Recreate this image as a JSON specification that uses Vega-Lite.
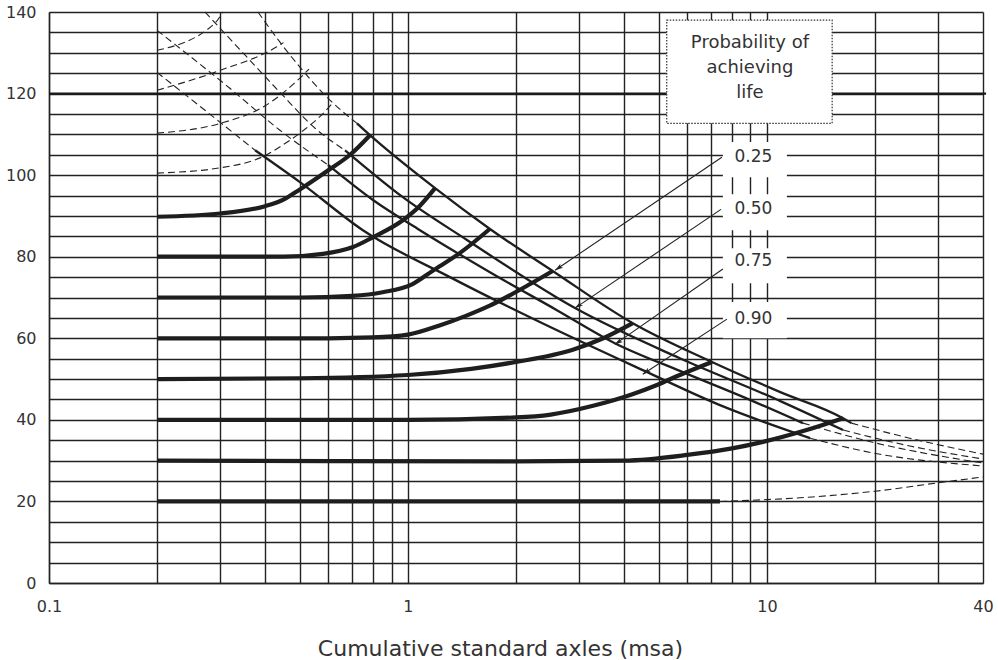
{
  "$schema": "https://vega.github.io/schema/vega-lite/v6.json",
  "width": 934,
  "height": 571,
  "autosize": {"type": "none"},
  "padding": {"left": 49, "top": 12, "right": 15, "bottom": 77},
  "background": "white",
  "config": {"font": "DejaVu Sans", "view": {"stroke": null}},
  "datasets": {
    "thick": [
      {"s": "90", "x": 0.2, "y": 89.8}, {"s": "90", "x": 0.3, "y": 90.6}, {"s": "90", "x": 0.4, "y": 92.4}, {"s": "90", "x": 0.45, "y": 94}, {"s": "90", "x": 0.5, "y": 96.5}, {"s": "90", "x": 0.6, "y": 101.2}, {"s": "90", "x": 0.69, "y": 105}, {"s": "90", "x": 0.784, "y": 109.8},
      {"s": "80", "x": 0.2, "y": 80}, {"s": "80", "x": 0.45, "y": 80}, {"s": "80", "x": 0.58, "y": 80.7}, {"s": "80", "x": 0.7, "y": 82.3}, {"s": "80", "x": 0.8, "y": 84.8}, {"s": "80", "x": 0.97, "y": 89}, {"s": "80", "x": 1.08, "y": 92.5}, {"s": "80", "x": 1.19, "y": 96.8},
      {"s": "70", "x": 0.2, "y": 70}, {"s": "70", "x": 0.5, "y": 70}, {"s": "70", "x": 0.7, "y": 70.4}, {"s": "70", "x": 0.85, "y": 71.3}, {"s": "70", "x": 1.03, "y": 73.3}, {"s": "70", "x": 1.17, "y": 76.5}, {"s": "70", "x": 1.4, "y": 81}, {"s": "70", "x": 1.69, "y": 86.8},
      {"s": "60", "x": 0.2, "y": 60}, {"s": "60", "x": 0.6, "y": 60}, {"s": "60", "x": 0.8, "y": 60.2}, {"s": "60", "x": 1.0, "y": 60.9}, {"s": "60", "x": 1.23, "y": 63.2}, {"s": "60", "x": 1.45, "y": 65.5}, {"s": "60", "x": 1.69, "y": 68}, {"s": "60", "x": 2.19, "y": 73.3}, {"s": "60", "x": 2.53, "y": 76.5},
      {"s": "50", "x": 0.2, "y": 50}, {"s": "50", "x": 0.5, "y": 50.2}, {"s": "50", "x": 1.0, "y": 51}, {"s": "50", "x": 1.5, "y": 52.5}, {"s": "50", "x": 2.0, "y": 54.2}, {"s": "50", "x": 2.88, "y": 57.2}, {"s": "50", "x": 3.5, "y": 60}, {"s": "50", "x": 4.23, "y": 63.7},
      {"s": "40", "x": 0.2, "y": 40}, {"s": "40", "x": 1, "y": 40}, {"s": "40", "x": 2, "y": 40.6}, {"s": "40", "x": 2.5, "y": 41.3}, {"s": "40", "x": 3.3, "y": 43.5}, {"s": "40", "x": 4.2, "y": 46.2}, {"s": "40", "x": 4.92, "y": 48.5}, {"s": "40", "x": 5.72, "y": 51}, {"s": "40", "x": 7.03, "y": 54.2},
      {"s": "30", "x": 0.2, "y": 30}, {"s": "30", "x": 2, "y": 29.8}, {"s": "30", "x": 4, "y": 30}, {"s": "30", "x": 6, "y": 31.4}, {"s": "30", "x": 8, "y": 33}, {"s": "30", "x": 9.75, "y": 34.6}, {"s": "30", "x": 12.9, "y": 37.5}, {"s": "30", "x": 16.3, "y": 40.4},
      {"s": "20", "x": 0.2, "y": 20}, {"s": "20", "x": 7.4, "y": 20}
    ],
    "solid": [
      {"s": "A", "x": 0.721, "y": 112.7}, {"s": "A", "x": 0.784, "y": 109.8}, {"s": "A", "x": 1.19, "y": 96.8}, {"s": "A", "x": 1.692, "y": 86.8}, {"s": "A", "x": 2.53, "y": 76.5}, {"s": "A", "x": 4.23, "y": 63.7}, {"s": "A", "x": 7.03, "y": 54.2}, {"s": "A", "x": 10.9, "y": 46.8}, {"s": "A", "x": 16.3, "y": 40.4}, {"s": "A", "x": 17.2, "y": 39.2},
      {"s": "B", "x": 0.668, "y": 106.1}, {"s": "B", "x": 0.968, "y": 94.6}, {"s": "B", "x": 1.46, "y": 84.1}, {"s": "B", "x": 2.92, "y": 67.4}, {"s": "B", "x": 5.72, "y": 55.1}, {"s": "B", "x": 10.9, "y": 44.6}, {"s": "B", "x": 16.3, "y": 37.5},
      {"s": "C", "x": 0.599, "y": 102.5}, {"s": "C", "x": 0.799, "y": 93.9}, {"s": "C", "x": 1.08, "y": 86.5}, {"s": "C", "x": 1.692, "y": 76.2}, {"s": "C", "x": 2.6, "y": 66.9}, {"s": "C", "x": 3.77, "y": 58.8}, {"s": "C", "x": 5.72, "y": 52.0}, {"s": "C", "x": 8.97, "y": 44.9}, {"s": "C", "x": 12.6, "y": 39.2},
      {"s": "D", "x": 0.375, "y": 106.1}, {"s": "D", "x": 0.5, "y": 98.3}, {"s": "D", "x": 0.749, "y": 86.5}, {"s": "D", "x": 1.309, "y": 75.0}, {"s": "D", "x": 2.33, "y": 64.0}, {"s": "D", "x": 4.51, "y": 52.2}, {"s": "D", "x": 7.4, "y": 43.6}, {"s": "D", "x": 13.2, "y": 35.5}
    ],
    "dashed": [
      {"s": "dA", "x": 0.382, "y": 140}, {"s": "dA", "x": 0.44, "y": 132.6}, {"s": "dA", "x": 0.5, "y": 126.5}, {"s": "dA", "x": 0.595, "y": 119.1}, {"s": "dA", "x": 0.721, "y": 112.7},
      {"s": "dB", "x": 0.272, "y": 140}, {"s": "dB", "x": 0.352, "y": 129.4}, {"s": "dB", "x": 0.44, "y": 120.3}, {"s": "dB", "x": 0.551, "y": 111.5}, {"s": "dB", "x": 0.668, "y": 106.1},
      {"s": "dC", "x": 0.2, "y": 135.5}, {"s": "dC", "x": 0.319, "y": 121.3}, {"s": "dC", "x": 0.44, "y": 111}, {"s": "dC", "x": 0.599, "y": 102.5},
      {"s": "dD", "x": 0.2, "y": 125.2}, {"s": "dD", "x": 0.272, "y": 115.9}, {"s": "dD", "x": 0.375, "y": 106.1},
      {"s": "tA", "x": 17.2, "y": 39.2}, {"s": "tA", "x": 25, "y": 35.5}, {"s": "tA", "x": 40, "y": 31.6},
      {"s": "tB", "x": 16.3, "y": 37.5}, {"s": "tB", "x": 25, "y": 33.6}, {"s": "tB", "x": 40, "y": 30.4},
      {"s": "tC", "x": 12.6, "y": 39.2}, {"s": "tC", "x": 19.7, "y": 34.5}, {"s": "tC", "x": 40, "y": 29.4},
      {"s": "tD", "x": 13.2, "y": 35.5}, {"s": "tD", "x": 19.7, "y": 31.9}, {"s": "tD", "x": 40, "y": 28.7},
      {"s": "c100", "x": 0.2, "y": 100.5}, {"s": "c100", "x": 0.3, "y": 101.8}, {"s": "c100", "x": 0.4, "y": 104.8}, {"s": "c100", "x": 0.45, "y": 107.5}, {"s": "c100", "x": 0.5, "y": 110.3}, {"s": "c100", "x": 0.6, "y": 116.5}, {"s": "c100", "x": 0.62, "y": 118},
      {"s": "c110", "x": 0.2, "y": 110.3}, {"s": "c110", "x": 0.3, "y": 112.7}, {"s": "c110", "x": 0.4, "y": 117}, {"s": "c110", "x": 0.5, "y": 123.8}, {"s": "c110", "x": 0.53, "y": 126},
      {"s": "c120", "x": 0.2, "y": 120.8}, {"s": "c120", "x": 0.3, "y": 125.7}, {"s": "c120", "x": 0.43, "y": 131.4}, {"s": "c120", "x": 0.45, "y": 132.5},
      {"s": "c130", "x": 0.2, "y": 130.6}, {"s": "c130", "x": 0.29, "y": 137.3}, {"s": "c130", "x": 0.305, "y": 140},
      {"s": "d20", "x": 7.4, "y": 20}, {"s": "d20", "x": 13.4, "y": 21.1}, {"s": "d20", "x": 20, "y": 22.5}, {"s": "d20", "x": 29.6, "y": 24.5}, {"s": "d20", "x": 40, "y": 26}
    ],
    "arrows": [
      {"s": "0.25", "x": 7.49, "y": 104.4}, {"s": "0.25", "x": 2.57, "y": 76.7},
      {"s": "0.50", "x": 7.45, "y": 91.6}, {"s": "0.50", "x": 2.92, "y": 67.4},
      {"s": "0.75", "x": 7.54, "y": 77.0}, {"s": "0.75", "x": 3.77, "y": 58.5},
      {"s": "0.90", "x": 7.74, "y": 64.7}, {"s": "0.90", "x": 4.51, "y": 51.2}
    ],
    "heads": [
      {"x": 2.57, "y": 76.7}, {"x": 2.92, "y": 67.4}, {"x": 3.77, "y": 58.5}, {"x": 4.51, "y": 51.2}
    ],
    "boxes": [
      {"t": "0.25", "x": 7.54, "x2": 11.37, "y": 99.5, "y2": 108.1, "ty": 104.4, "tx": 9.17},
      {"t": "0.50", "x": 7.54, "x2": 11.37, "y": 86.5, "y2": 95.3, "ty": 91.8, "tx": 9.17},
      {"t": "0.75", "x": 7.54, "x2": 11.37, "y": 73.5, "y2": 82.1, "ty": 78.9, "tx": 9.17},
      {"t": "0.90", "x": 7.54, "x2": 11.37, "y": 60.0, "y2": 68.9, "ty": 64.7, "tx": 9.17}
    ],
    "probbox": [
      {"x": 5.26, "x2": 15.2, "y": 112.7, "y2": 138}
    ],
    "probtext": [
      {"t": "Probability of", "x": 8.97, "y": 132.4},
      {"t": "achieving", "x": 8.97, "y": 126.2},
      {"t": "life", "x": 8.97, "y": 120.1}
    ],
    "line120": [
      {"x": 0.1, "x2": 40.8, "y": 120}
    ]
  },
  "encoding": {
    "x": {
      "field": "x", "type": "quantitative",
      "scale": {"type": "log", "domain": [0.1, 40], "nice": false},
      "title": "Cumulative standard axles (msa)",
      "axis": {
        "values": [0.1, 0.2, 0.3, 0.4, 0.5, 0.6, 0.7, 0.8, 0.9, 1, 2, 3, 4, 5, 6, 7, 8, 9, 10, 20, 30, 40],
        "labelExpr": "datum.value === 0.1 ? '0.1' : datum.value === 1 ? '1' : datum.value === 10 ? '10' : datum.value === 40 ? '40' : ''",
        "grid": true, "gridColor": "#222", "gridWidth": 1.4, "gridOpacity": 1,
        "ticks": false, "domain": true, "domainColor": "#222", "domainWidth": 1.4,
        "labelFlush": false, "labelOverlap": false,
        "labelFont": "DejaVu Sans", "labelFontSize": 16, "labelColor": "#333", "labelPadding": 15,
        "titleFont": "DejaVu Sans", "titleFontSize": 22, "titleFontWeight": "normal", "titleColor": "#333",
        "titleX": 451, "titleY": 65, "titleAlign": "center", "titleBaseline": "middle"
      }
    },
    "y": {
      "field": "y", "type": "quantitative",
      "scale": {"domain": [0, 140], "nice": false, "zero": false},
      "title": null,
      "axis": {
        "values": [0, 5, 10, 15, 20, 25, 30, 35, 40, 45, 50, 55, 60, 65, 70, 75, 80, 85, 90, 95, 100, 105, 110, 115, 120, 125, 130, 135, 140],
        "labelExpr": "datum.value % 20 === 0 ? datum.label : ''",
        "grid": true, "gridColor": "#222", "gridWidth": 1.4, "gridOpacity": 1,
        "ticks": false, "domain": true, "domainColor": "#222", "domainWidth": 1.4,
        "labelFlush": false, "labelOverlap": false,
        "labelFont": "DejaVu Sans", "labelFontSize": 16, "labelColor": "#333", "labelPadding": 13
      }
    }
  },
  "layer": [
    {
      "data": {"name": "line120"},
      "mark": {"type": "rule", "stroke": "#1a1a1a", "strokeWidth": 2.2},
      "encoding": {"x2": {"field": "x2"}}
    },
    {
      "data": {"name": "dashed"},
      "mark": {"type": "line", "stroke": "#222", "strokeWidth": 1.1, "strokeDash": [7, 4], "interpolate": "monotone"},
      "encoding": {"detail": {"field": "s"}}
    },
    {
      "data": {"name": "solid"},
      "mark": {"type": "line", "stroke": "#1e1e1e", "strokeWidth": 2.3, "interpolate": "monotone"},
      "encoding": {"detail": {"field": "s"}}
    },
    {
      "data": {"name": "thick"},
      "mark": {"type": "line", "stroke": "#1e1e1e", "strokeWidth": 4.2, "interpolate": "monotone"},
      "encoding": {"detail": {"field": "s"}}
    },
    {
      "data": {"name": "probbox"},
      "mark": {"type": "rect", "fill": "white", "stroke": "#333", "strokeWidth": 1.2, "strokeDash": [1.5, 1.5]},
      "encoding": {"x2": {"field": "x2"}, "y2": {"field": "y2"}}
    },
    {
      "data": {"name": "probtext"},
      "mark": {"type": "text", "font": "DejaVu Sans", "fontSize": 18, "color": "#333", "align": "center", "baseline": "middle"},
      "encoding": {"text": {"field": "t"}}
    },
    {
      "data": {"name": "boxes"},
      "mark": {"type": "rect", "fill": "white", "stroke": null},
      "encoding": {"x2": {"field": "x2"}, "y2": {"field": "y2"}}
    },
    {
      "data": {"name": "boxes"},
      "mark": {"type": "text", "font": "DejaVu Sans", "fontSize": 17, "color": "#333", "align": "center", "baseline": "middle"},
      "encoding": {"x": {"field": "tx", "type": "quantitative"}, "y": {"field": "ty", "type": "quantitative"}, "text": {"field": "t"}}
    },
    {
      "data": {"name": "arrows"},
      "mark": {"type": "line", "stroke": "#222", "strokeWidth": 1.1},
      "encoding": {"detail": {"field": "s"}}
    },
    {
      "data": {"name": "heads"},
      "mark": {"type": "point", "shape": "M0,0L-0.3,1L0,0.75L0.3,1Z", "filled": true, "color": "#222", "size": 260, "angle": 236, "opacity": 1}
    }
  ]
}
